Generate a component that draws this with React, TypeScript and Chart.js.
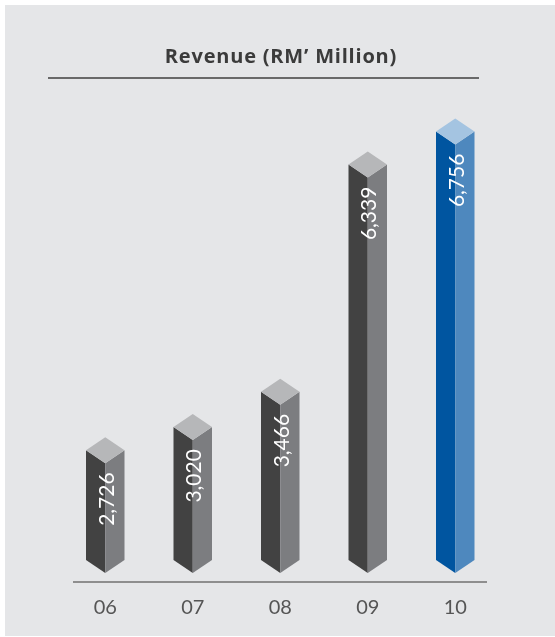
import React, { useEffect, useRef } from 'react';
import { Chart, registerables } from 'chart.js';

Chart.register(...registerables);

// ---- data ----
const categories: string[] = ['06', '07', '08', '09', '10'];
const revenue: number[] = [2726, 3020, 3466, 6339, 6756];
const titleText = 'Revenue (RM\u2019 Million)';
const highlightIndex = 4;

// ---- styles ----
const GREY = { left: '#424242', right: '#7c7d80', top: '#b6b7b9' };
const BLUE = { left: '#0055a0', right: '#4e88be', top: '#a4c4e1' };
const PANEL_BG = '#e5e6e8';
const DEPTH = 13;

const pillarPlugin = {
  id: 'pillars',
  beforeDraw(chart: any) {
    const ctx: any = chart.ctx;
    const area = chart.chartArea;
    ctx.save();
    ctx.fillStyle = PANEL_BG;
    ctx.fillRect(5, 5, chart.width - 5, chart.height - 6);

    // title
    ctx.fillStyle = '#3b3b3b';
    ctx.font = 'bold 20px "Open Sans"';
    try {
      ctx.letterSpacing = '0.8px';
    } catch (e) {}
    ctx.textAlign = 'center';
    ctx.textBaseline = 'alphabetic';
    ctx.fillText(titleText, 281, 63);
    try {
      ctx.letterSpacing = '0px';
    } catch (e) {}

    // rule under title
    ctx.strokeStyle = '#3f3f3f';
    ctx.lineWidth = 1.5;
    ctx.beginPath();
    ctx.moveTo(48, 78);
    ctx.lineTo(479, 78);
    ctx.stroke();

    // baseline
    ctx.strokeStyle = '#707070';
    ctx.lineWidth = 1.6;
    ctx.beginPath();
    const by = area.bottom + 9;
    ctx.moveTo(area.left + 11.5, by);
    ctx.lineTo(area.right - 12, by);
    ctx.stroke();
    ctx.restore();
  },
  afterDatasetsDraw(chart: any) {
    const ctx: CanvasRenderingContext2D = chart.ctx;
    const meta = chart.getDatasetMeta(0);
    const base = chart.scales.y.getBasePixel();
    meta.data.forEach((bar: any, i: number) => {
      const { x, y, width } = bar.getProps(['x', 'y', 'width'], true);
      const hw = width / 2;
      const d = DEPTH;
      const c = i === highlightIndex ? BLUE : GREY;
      ctx.save();
      // left face
      ctx.fillStyle = c.left;
      ctx.beginPath();
      ctx.moveTo(x - hw, y - d);
      ctx.lineTo(x, y);
      ctx.lineTo(x, base);
      ctx.lineTo(x - hw, base - d);
      ctx.closePath();
      ctx.fill();
      // right face
      ctx.fillStyle = c.right;
      ctx.beginPath();
      ctx.moveTo(x, y);
      ctx.lineTo(x + hw, y - d);
      ctx.lineTo(x + hw, base - d);
      ctx.lineTo(x, base);
      ctx.closePath();
      ctx.fill();
      // top
      ctx.fillStyle = c.top;
      ctx.beginPath();
      ctx.moveTo(x, y - 2 * d);
      ctx.lineTo(x + hw, y - d);
      ctx.lineTo(x, y);
      ctx.lineTo(x - hw, y - d);
      ctx.closePath();
      ctx.fill();

      // value label (rotated)
      const label = revenue[i].toLocaleString('en-US');
      ctx.translate(x + 8.5, y + 9);
      ctx.rotate(-Math.PI / 2);
      ctx.fillStyle = '#ffffff';
      ctx.font = '21px Lato';
      ctx.textAlign = 'right';
      ctx.textBaseline = 'alphabetic';
      ctx.fillText(label, 0, 0);
      ctx.restore();
    });
  },
};

export default function App() {
  const ref = useRef<HTMLCanvasElement | null>(null);
  useEffect(() => {
    document.body.style.margin = '0';
    if (!ref.current) return;
    const chart = new Chart(ref.current, {
      type: 'bar',
      data: {
        labels: categories,
        datasets: [
          {
            label: 'Revenue',
            data: revenue,
            backgroundColor: 'rgba(0,0,0,0)',
            borderWidth: 0,
            barPercentage: 0.44,
            categoryPercentage: 1,
          },
        ],
      },
      options: {
        responsive: false,
        animation: false,
        events: [],
        layout: { padding: { top: 100, left: 61.5, right: 56, bottom: 10 } },
        plugins: {
          legend: { display: false },
          title: { display: false },
          tooltip: { enabled: false },
        },
        scales: {
          x: {
            grid: { display: false },
            border: { display: false },
            ticks: {
              color: '#555555',
              font: { family: 'Lato', size: 20 },
              padding: 15,
            },
            afterFit: (s: any) => {
              s.height = 54;
            },
          },
          y: {
            display: false,
            min: 1340,
            max: 7320,
          },
        },
      },
      plugins: [pillarPlugin],
    });
    return () => chart.destroy();
  }, []);
  return (
    <div style={{ width: 555, height: 637 }}>
      <canvas ref={ref} width={555} height={637} style={{ display: 'block' }} />
    </div>
  );
}
